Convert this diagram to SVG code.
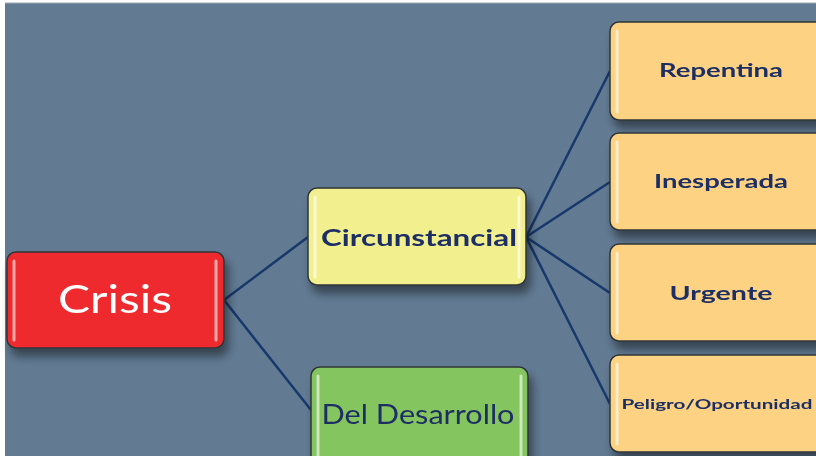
<svg xmlns="http://www.w3.org/2000/svg" width="816" height="456" viewBox="0 0 816 456">
<defs>
<filter id="sh" x="-20%" y="-20%" width="140%" height="160%">
<feGaussianBlur in="SourceAlpha" stdDeviation="5"/>
<feOffset dx="4" dy="8"/>
<feComponentTransfer><feFuncA type="linear" slope="0.45"/></feComponentTransfer>
<feMerge><feMergeNode/><feMergeNode in="SourceGraphic"/></feMerge>
</filter>
</defs>
<style>
.box{stroke:#2f3437;stroke-width:1.5}
.hl{fill:none;stroke:#ffffff;stroke-opacity:0.6;stroke-width:3;stroke-linecap:round}
.c{fill:none;stroke:#17386b;stroke-width:2.5}
.t{font-family:"Lato","Open Sans",sans-serif;fill:#1d2f63;text-anchor:middle}
.b{font-weight:bold}
</style>
<rect x="0" y="0" width="816" height="456" fill="#ffffff"/>
<rect x="5" y="3" width="811" height="453" fill="#627b93"/>
<line x1="5" y1="3" x2="816" y2="3" stroke="#9aa6b2" stroke-width="1"/>
<g id="connectors">
<path class="c" d="M224 300 L308 237"/>
<path class="c" d="M224 300 L311 410"/>
<path class="c" d="M526 237 L610 71"/>
<path class="c" d="M526 237 L610 182"/>
<path class="c" d="M526 237 L610 293"/>
<path class="c" d="M526 237 L610 404"/>
</g>
<g id="crisis" filter="url(#sh)">
<rect class="box" x="7" y="252" width="217" height="96" rx="9" fill="#ee2c2e"/>
<path class="hl" d="M14 261 V340 M216 261 V340"/>
<text class="t" x="115" y="313" font-size="39" fill="#ffffff" style="fill:#ffffff" textLength="114" lengthAdjust="spacingAndGlyphs">Crisis</text>
</g>
<g id="circunstancial" filter="url(#sh)">
<rect class="box" x="308" y="188" width="218" height="97" rx="9" fill="#f2ef8f"/>
<path class="hl" d="M315 197 V277 M519 197 V277"/>
<text class="t b" x="419" y="246" font-size="22" textLength="196" lengthAdjust="spacingAndGlyphs">Circunstancial</text>
</g>
<g id="desarrollo" filter="url(#sh)">
<rect class="box" x="311" y="367" width="217" height="100" rx="9" fill="#85c55e"/>
<path class="hl" d="M318 376 V460 M521 376 V460"/>
<text class="t" x="418" y="424" font-size="27" textLength="193" lengthAdjust="spacingAndGlyphs">Del Desarrollo</text>
</g>
<g id="repentina" filter="url(#sh)">
<rect class="box" x="610" y="22" width="220" height="98" rx="9" fill="#fdd283"/>
<path class="hl" d="M617 31 V112"/>
<text class="t b" x="721" y="77" font-size="19" textLength="124" lengthAdjust="spacingAndGlyphs">Repentina</text>
</g>
<g id="inesperada" filter="url(#sh)">
<rect class="box" x="610" y="133" width="220" height="97" rx="9" fill="#fdd283"/>
<path class="hl" d="M617 142 V222"/>
<text class="t b" x="721" y="188" font-size="19" textLength="134" lengthAdjust="spacingAndGlyphs">Inesperada</text>
</g>
<g id="urgente" filter="url(#sh)">
<rect class="box" x="610" y="244" width="220" height="97" rx="9" fill="#fdd283"/>
<path class="hl" d="M617 253 V333"/>
<text class="t b" x="721" y="300" font-size="19" textLength="103" lengthAdjust="spacingAndGlyphs">Urgente</text>
</g>
<g id="peligro" filter="url(#sh)">
<rect class="box" x="610" y="355" width="220" height="97" rx="9" fill="#fdd283"/>
<path class="hl" d="M617 364 V444"/>
<text class="t b" x="717" y="409" font-size="14" textLength="191" lengthAdjust="spacingAndGlyphs">Peligro/Oportunidad</text>
</g>
</svg>
